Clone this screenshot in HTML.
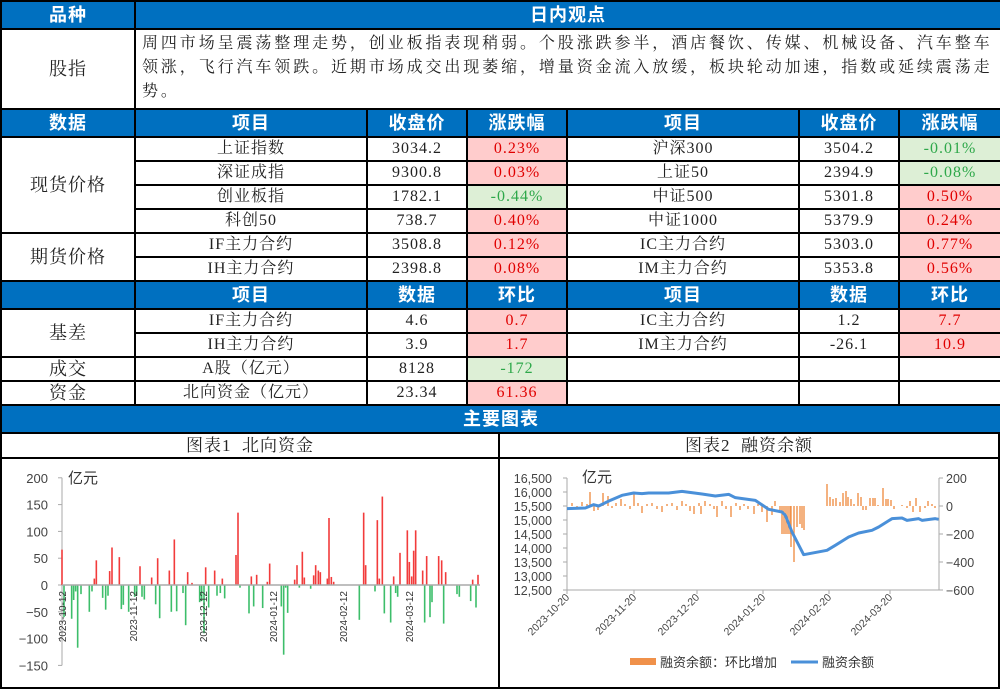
<!DOCTYPE html>
<html><head><meta charset="utf-8"><style>
*{margin:0;padding:0;box-sizing:border-box}
body{width:1000px;height:689px;background:#fff;overflow:hidden;position:relative;font-family:"Liberation Serif","Noto Serif CJK SC",serif}
table{border-collapse:collapse;position:absolute;left:0;top:0;width:1000px;table-layout:fixed}
td{border:2px solid #000;text-align:center;font-size:16px;color:#222;padding:0;line-height:1;letter-spacing:1px}
td.h{background:#0070C0;color:#fff;font-family:"Liberation Sans","Noto Sans CJK SC",sans-serif;font-weight:bold;font-size:18px;letter-spacing:1px}
td.r{background:#FFCCCC;color:#E00000}
td.g{background:#DDEFD6;color:#2EA84A}
td.txt{text-align:left;font-size:16px;line-height:24px;padding:0 0 0 6px;vertical-align:top;padding-top:2px;letter-spacing:2.9px}
.ch{position:absolute;top:432px;width:500px;height:257px;border:2px solid #000;background:#fff}
.ct{height:25px;border-bottom:2px solid #000;text-align:center;font-size:17px;line-height:23px;color:#222;letter-spacing:1px}
</style></head><body>
<table>
<colgroup><col style="width:134px"><col style="width:232px"><col style="width:100px"><col style="width:100px"><col style="width:232px"><col style="width:100px"><col style="width:102px"></colgroup>
<tr style="height:28px"><td class="h">品种</td><td class="h" colspan="6">日内观点</td></tr>
<tr style="height:80px"><td style="font-size:18px">股指</td><td class="txt" colspan="6">周四市场呈震荡整理走势，创业板指表现稍弱。个股涨跌参半，酒店餐饮、传媒、机械设备、汽车整车领涨，飞行汽车领跌。近期市场成交出现萎缩，增量资金流入放缓，板块轮动加速，指数或延续震荡走势。</td></tr>
<tr style="height:28px"><td class="h">数据</td><td class="h">项目</td><td class="h">收盘价</td><td class="h">涨跌幅</td><td class="h">项目</td><td class="h">收盘价</td><td class="h">涨跌幅</td></tr>
<tr style="height:24px"><td rowspan="4" style="font-size:18px">现货价格</td><td>上证指数</td><td>3034.2</td><td class="r">0.23%</td><td>沪深300</td><td>3504.2</td><td class="g">-0.01%</td></tr>
<tr style="height:24px"><td>深证成指</td><td>9300.8</td><td class="r">0.03%</td><td>上证50</td><td>2394.9</td><td class="g">-0.08%</td></tr>
<tr style="height:24px"><td>创业板指</td><td>1782.1</td><td class="g">-0.44%</td><td>中证500</td><td>5301.8</td><td class="r">0.50%</td></tr>
<tr style="height:24px"><td>科创50</td><td>738.7</td><td class="r">0.40%</td><td>中证1000</td><td>5379.9</td><td class="r">0.24%</td></tr>
<tr style="height:24px"><td rowspan="2" style="font-size:18px">期货价格</td><td>IF主力合约</td><td>3508.8</td><td class="r">0.12%</td><td>IC主力合约</td><td>5303.0</td><td class="r">0.77%</td></tr>
<tr style="height:24px"><td>IH主力合约</td><td>2398.8</td><td class="r">0.08%</td><td>IM主力合约</td><td>5353.8</td><td class="r">0.56%</td></tr>
<tr style="height:28px"><td class="h"></td><td class="h">项目</td><td class="h">数据</td><td class="h">环比</td><td class="h">项目</td><td class="h">数据</td><td class="h">环比</td></tr>
<tr style="height:24px"><td rowspan="2" style="font-size:18px">基差</td><td>IF主力合约</td><td>4.6</td><td class="r">0.7</td><td>IC主力合约</td><td>1.2</td><td class="r">7.7</td></tr>
<tr style="height:24px"><td>IH主力合约</td><td>3.9</td><td class="r">1.7</td><td>IM主力合约</td><td>-26.1</td><td class="r">10.9</td></tr>
<tr style="height:24px"><td style="font-size:18px">成交</td><td>A股（亿元）</td><td>8128</td><td class="g">-172</td><td></td><td></td><td></td></tr>
<tr style="height:24px"><td style="font-size:18px">资金</td><td>北向资金（亿元）</td><td>23.34</td><td class="r">61.36</td><td></td><td></td><td></td></tr>
<tr style="height:28px"><td class="h" colspan="7">主要图表</td></tr>
</table>

<div class="ch" style="left:0"><div class="ct">图表1&nbsp; 北向资金</div>
<svg id="s1" width="496" height="228" style="position:absolute;left:0;top:27px;font-family:'Liberation Sans','Noto Sans CJK SC',sans-serif"></svg></div>
<div class="ch" style="left:498px;width:502px"><div class="ct">图表2&nbsp; 融资余额</div>
<svg id="s2" width="498" height="228" style="position:absolute;left:0;top:27px;font-family:'Liberation Sans','Noto Sans CJK SC',sans-serif"></svg></div>

<script>
var NS="http://www.w3.org/2000/svg";
function el(s,t,a,txt){var e=document.createElementNS(NS,t);for(var k in a)e.setAttribute(k,a[k]);if(txt!==undefined)e.textContent=txt;s.appendChild(e);return e;}
var s1=document.getElementById('s1'),oy=459;
function Y1(v){return 583-oy-v*0.536;}
el(s1,'line',{x1:60,y1:Y1(200),x2:60,y2:Y1(-150),stroke:'#aaa','stroke-width':1});
[200,150,100,50,0,-50,-100,-150].forEach(function(v){el(s1,'line',{x1:56,y1:Y1(v),x2:60,y2:Y1(v),stroke:'#aaa'});el(s1,'text',{x:46,y:Y1(v)+5,'text-anchor':'end','font-size':13,fill:'#444'},v<0?'−'+(-v):v);});
el(s1,'text',{x:66,y:Y1(200)+5,'font-size':15,fill:'#333'},'亿元');
var red=[[180,66],[277,12],[283,46],[323,26],[330,70],[352,52],[414,35],[449,14],[467,50],[502,27],[517,85],[557,24],[570,4],[611,33],[638,27],[661,12],[702,56],[708,135],[748,16],[764,19],[796,6],[803,40],[878,10],[885,37],[901,62],[907,14],[935,18],[941,37],[949,27],[955,24],[976,12],[981,125],[988,15],[995,6],[1085,135],[1091,37],[1126,121],[1132,12],[1141,165],[1175,16],[1194,60],[1216,102],[1222,43],[1229,16],[1235,64],[1241,102],[1262,27],[1274,54],[1310,54],[1319,46],[1331,24],[1412,10],[1428,19]];
var grn=[[186,-60],[209,-63],[215,-28],[221,-12],[227,-117],[237,-17],[262,-50],[270,-12],[302,-24],[311,-46],[318,-20],[358,-45],[364,-37],[380,-50],[398,-22],[404,-20],[420,-22],[427,-27],[461,-36],[473,-62],[508,-50],[524,-49],[543,-15],[551,-75],[593,-32],[599,-30],[606,-90],[620,-42],[645,-20],[655,-15],[668,-25],[714,-5],[741,-53],[755,-40],[782,-43],[838,-40],[845,-130],[851,-5],[857,-52],[892,-5],[926,-7],[1072,-65],[1119,-12],[1147,-53],[1166,-70],[1181,-15],[1187,-22],[1268,-70],[1284,-60],[1290,-32],[1325,-72],[1365,-17],[1372,-22],[1406,-30],[1422,-42]];
red.forEach(function(b){var x=b[0]/3;el(s1,'rect',{x:x-0.8,y:Y1(b[1]),width:1.6,height:b[1]*0.536,fill:'#F23B3B'});});
grn.forEach(function(b){var x=b[0]/3;el(s1,'rect',{x:x-0.8,y:Y1(0),width:1.6,height:-b[1]*0.536,fill:'#3DBE6A'});});
el(s1,'line',{x1:60,y1:Y1(0),x2:478,y2:Y1(0),stroke:'#aaa','stroke-width':1.5});
[[61,'2023-10-12'],[132,'2023-11-12'],[202,'2023-12-12'],[272,'2024-01-12'],[342,'2024-02-12'],[408,'2024-03-12']].forEach(function(d){
el(s1,'text',{x:0,y:0,'font-size':10,fill:'#333','text-anchor':'end',transform:'translate('+(d[0]+3)+','+(Y1(0)+6)+') rotate(-90)'},d[1]);});
var s2=document.getElementById('s2'),ox=498;
function YL(v){return 476-oy+(16500-v)*0.028;}
function YR(v){return 504-oy-v*0.14;}
var xl=565-ox,xr=937-ox;
el(s2,'line',{x1:xl,y1:YL(16500),x2:xl,y2:YL(12500),stroke:'#aaa'});
el(s2,'line',{x1:xr,y1:YR(200),x2:xr,y2:YR(-600),stroke:'#aaa'});
el(s2,'line',{x1:xl,y1:YL(12500),x2:xr,y2:YL(12500),stroke:'#aaa'});
for(var v=12500;v<=16500;v+=500){el(s2,'line',{x1:xl-4,y1:YL(v),x2:xl,y2:YL(v),stroke:'#aaa'});el(s2,'text',{x:xl-15,y:YL(v)+5,'text-anchor':'end','font-size':12.5,fill:'#444'},v.toLocaleString('en-US'));}
[200,0,-200,-400,-600].forEach(function(v){el(s2,'line',{x1:xr,y1:YR(v),x2:xr+4,y2:YR(v),stroke:'#aaa'});el(s2,'text',{x:xr+7,y:YR(v)+5,'font-size':12.5,fill:'#444'},v<0?'−'+(-v):v);});
el(s2,'text',{x:82,y:YL(16500)+4,'font-size':15,fill:'#333'},'亿元');
var ob=[[570,3],[575,-2],[580,4],[585,2],[588,14],[592,-5],[596,-4],[601,13],[606,10],[610,-2],[614,3],[619,7],[623,2],[628,-3],[632,12],[636,3],[640,-7],[645,2],[650,3],[655,-3],[660,-6],[665,2],[670,3],[675,-4],[680,5],[684,2],[688,-5],[692,-8],[697,3],[699,-8],[703,5],[708,2],[712,-3],[715,-11],[720,5],[724,-3],[729,-11],[734,3],[738,-4],[742,2],[746,-3],[752,-8],[756,2],[760,-6],[765,-16],[770,-9],[773,5],[778,-4],[780,-28],[782,-28],[784,-28],[786,-28],[788,-28],[789,-41],[792,-56],[795,-21],[798,-18],[800,-22],[802,-24],[825,22],[828,9],[831,7],[834,8],[838,4],[841,13],[844,15],[846,9],[849,7],[852,2],[856,13],[859,9],[861,-4],[864,-4],[868,8],[871,8],[873,8],[876,1],[881,18],[884,7],[886,7],[889,6],[892,-3],[900,1],[905,-2],[908,5],[911,-6],[914,8],[918,-6],[923,-2],[926,5],[930,2],[933,-2]];
ob.forEach(function(b){var x=b[0]-ox,h=b[1];el(s2,'rect',{x:x-0.7,y:h>0?YR(0)-h:YR(0),width:1.4,height:Math.abs(h),fill:'#F0914A'});});
var ln=[[195,230],[250,228],[275,218],[290,222],[325,205],[360,190],[395,183],[420,185],[440,183],[500,183],[540,178],[600,186],[640,192],[680,187],[700,197],[760,205],[800,232],[840,240],[850,250],[870,300],[905,368],[975,355],[1000,340],[1040,315],[1070,303],[1110,295],[1130,285],[1170,260],[1200,258],[1215,265],[1250,260],[1260,265],[1300,260],[1310,262]];
el(s2,'polyline',{points:ln.map(function(p){return (p[0]/3+500-ox)+','+(p[1]/3+430-oy);}).join(' '),fill:'none',stroke:'#4A90D9','stroke-width':3,'stroke-linejoin':'round'});
[[565,'2023-10-20'],[632,'2023-11-20'],[695,'2023-12-20'],[761,'2024-01-20'],[827,'2024-02-20'],[888,'2024-03-20']].forEach(function(d){
el(s2,'line',{x1:d[0]-ox,y1:YL(12500),x2:d[0]-ox,y2:YL(12500)+4,stroke:'#aaa'});
el(s2,'text',{x:0,y:0,'font-size':10.5,fill:'#444','text-anchor':'end',transform:'translate('+(d[0]-ox+3)+','+(YL(12500)+8)+') rotate(-45)'},d[1]);});
el(s2,'rect',{x:628-ox,y:656-oy,width:26,height:7,fill:'#F0914A'});
el(s2,'text',{x:658-ox,y:665-oy,'font-size':13,fill:'#333'},'融资余额：环比增加');
el(s2,'line',{x1:789-ox,y1:660-oy,x2:816-ox,y2:660-oy,stroke:'#4A90D9','stroke-width':3});
el(s2,'text',{x:820-ox,y:665-oy,'font-size':13,fill:'#333'},'融资余额');
</script>
</body></html>
